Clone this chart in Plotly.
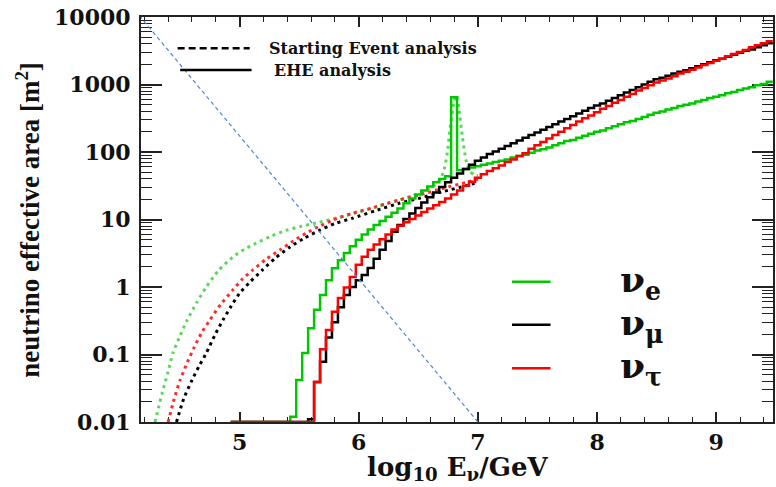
import numpy as np
import plotly.graph_objects as go

# ---------------- data ----------------
# EHE analysis histograms: log10(E/GeV) bins of width 0.05, first bin centred at 4.95
BIN_FIRST_CENTER = 4.95
BIN_WIDTH = 0.05
N_BINS = 91

ehe_nu_e = [0, 0, 0, 0, 0, 0, 0, 0, 0, 0,
            0.012, 0.042, 0.105, 0.245, 0.46, 0.76, 1.26, 1.9, 2.5, 3.2,
            4.0, 5.0, 6.0, 7.1, 8.3, 9.5, 11.0, 12.6, 14.5, 17.4,
            20.4, 23.4, 26.9, 30.9, 35.5, 39.8, 43.7, 650, 53.7, 56.2,
            58.9, 61.7, 64.6, 67.6, 70.8, 74.1, 77.6, 83.2, 87.1, 91.2,
            97.7, 105, 110, 117, 126, 135, 145, 151, 162, 174,
            186, 200, 209, 224, 240, 257, 275, 288, 309, 331,
            355, 380, 398, 427, 447, 479, 501, 525, 562, 589,
            631, 661, 692, 741, 776, 832, 871, 912, 977, 1020, 1100]

ehe_nu_mu = [0, 0, 0, 0, 0, 0, 0, 0, 0, 0, 0, 0, 0,
             0.011, 0.039, 0.078, 0.178, 0.30, 0.50, 0.76, 1.0, 1.26, 1.51,
             1.91, 2.63, 3.55, 4.79, 6.61, 8.32, 10.2, 12.3, 14.8, 17.8,
             21.4, 25.1, 30.2, 35.5, 41.7, 47.9, 56.2, 64.6, 74.1, 83.2,
             93.3, 102, 112, 123, 135, 148, 162, 178, 195, 214,
             234, 257, 282, 309, 339, 372, 407, 447, 490, 525,
             575, 631, 692, 759, 832, 912, 1000, 1100, 1200, 1260,
             1350, 1450, 1550, 1620, 1740, 1860, 2000, 2140, 2290, 2400,
             2570, 2750, 2950, 3160, 3310, 3550, 3800, 4070]

ehe_nu_tau = [0, 0, 0, 0, 0, 0, 0, 0, 0, 0, 0, 0, 0, 0,
              0.039, 0.12, 0.23, 0.43, 0.69, 0.98, 1.41, 2.14, 2.8, 3.55,
              4.27, 5.1, 6.0, 7.1, 8.1, 9.1, 10.2, 11.5, 12.9, 14.5,
              16.2, 18.2, 20.4, 23.4, 26.9, 31.6, 36.3, 41.7, 46.8, 52.5,
              57.5, 63.1, 70.8, 77.6, 87.1, 95.5, 112, 126, 141, 158,
              178, 200, 224, 251, 282, 316, 347, 389, 437, 479,
              537, 589, 661, 724, 813, 891, 977, 1070, 1150, 1230,
              1320, 1450, 1550, 1660, 1780, 1950, 2090, 2240, 2400, 2630,
              2820, 3020, 3240, 3550, 3800, 4070, 4370]

# Starting Event analysis curves
se_nu_e_x = [4.29, 4.32, 4.35, 4.40, 4.44, 4.50, 4.56, 4.64, 4.72, 4.82, 4.94, 5.04,
             5.14, 5.26, 5.39, 5.52, 5.67, 5.83, 6.00, 6.17, 6.34, 6.45, 6.55, 6.62,
             6.67, 6.71, 6.74, 6.77, 6.80, 6.82, 6.84, 6.87, 6.90, 6.93, 6.97, 7.00]
se_nu_e_y = [0.01, 0.0166, 0.0269, 0.0562, 0.105, 0.19, 0.324, 0.589, 1.0, 1.74, 2.75, 3.63,
             4.47, 5.62, 6.92, 7.94, 9.12, 10.7, 12.9, 15.8, 19.5, 22.4, 26.3, 30.9,
             36.3, 50.1, 89.1, 251, 562, 692, 447, 166, 75.9, 52.5, 45.7, 44.7]

se_nu_tau_x = [4.40, 4.45, 4.50, 4.56, 4.62, 4.68, 4.75, 4.84, 4.94, 5.02, 5.11, 5.22, 5.34,
               5.45, 5.56, 5.67, 5.78, 5.94, 6.11, 6.22, 6.34, 6.50, 6.70, 6.90, 7.00]
se_nu_tau_y = [0.01, 0.0219, 0.0417, 0.0759, 0.129, 0.209, 0.324, 0.55, 0.891, 1.29, 1.78, 2.57, 3.55,
               4.79, 6.31, 7.94, 9.77, 12.3, 14.8, 17.0, 19.5, 22.9, 28.8, 35.5, 39.8]

se_nu_mu_x = [4.47, 4.53, 4.60, 4.66, 4.72, 4.79, 4.86, 4.93, 5.00, 5.09, 5.19, 5.30,
              5.42, 5.54, 5.67, 5.80, 5.95, 6.14, 6.34, 6.50, 6.70, 6.90, 7.00]
se_nu_mu_y = [0.01, 0.0219, 0.0417, 0.0676, 0.105, 0.191, 0.324, 0.525, 0.813, 1.20, 1.78, 2.69,
              3.89, 5.25, 6.92, 8.71, 10.5, 13.5, 17.4, 20.4, 25.7, 31.6, 35.5]

# reference guide line (blue, dashed)
guide_x = [4.12, 7.0]
guide_y = [12600, 0.01]

x_tick_vals = [5, 6, 7, 8, 9]
x_tick_text = ["5", "6", "7", "8", "9"]
y_tick_vals = [0.01, 0.1, 1, 10, 100, 1000, 10000]
y_tick_text = ["0.01", "0.1", "1", "10", "100", "1000", "10000"]

# ---------------- styling ----------------
GREEN = "#00c800"
GREEN_LIGHT = "#5ed65e"
RED = "#ff0000"
RED_LIGHT = "#ff2a2a"
BLACK = "#000000"
AXIS = "#222222"
Y_FLOOR = 0.01  # empty bins are drawn on the lower frame edge

edges = BIN_FIRST_CENTER - BIN_WIDTH / 2 + BIN_WIDTH * np.arange(N_BINS + 1)


def hist_xy(values):
    v = [val if val > 0 else Y_FLOOR for val in values]
    return list(edges), v + [v[-1]]


fig = go.Figure()

dot = "3px,4px"
for xs, ys, col in [(se_nu_e_x, se_nu_e_y, GREEN_LIGHT),
                    (se_nu_tau_x, se_nu_tau_y, RED_LIGHT),
                    (se_nu_mu_x, se_nu_mu_y, BLACK)]:
    fig.add_trace(go.Scatter(x=xs, y=ys, mode="lines",
                             line=dict(color=col, width=3, dash=dot, shape="spline", smoothing=0.6),
                             showlegend=False, hoverinfo="skip"))

for vals, col in [(ehe_nu_e, GREEN), (ehe_nu_mu, BLACK), (ehe_nu_tau, RED)]:
    hx, hy = hist_xy(vals)
    fig.add_trace(go.Scatter(x=hx, y=hy, mode="lines", cliponaxis=False,
                             line=dict(color=col, width=2.5, shape="hv"),
                             showlegend=False, hoverinfo="skip"))

fig.add_trace(go.Scatter(x=guide_x, y=guide_y, mode="lines", cliponaxis=False,
                         line=dict(color="#4f86d6", width=1.2, dash="4px,3px"),
                         showlegend=False, hoverinfo="skip"))

tick_font = dict(family="DejaVu Serif", size=22, color="#111111")

minor_y = [k * 10.0 ** d for d in range(-2, 4) for k in range(2, 10)]

fig.update_layout(
    width=776, height=487,
    margin=dict(l=141, r=1, t=17, b=65),
    paper_bgcolor="white", plot_bgcolor="white",
    xaxis=dict(range=[4.172, 9.477], showgrid=False, zeroline=False, layer="below traces",
               showline=True, linewidth=2, linecolor=AXIS, mirror="ticks",
               ticks="inside", ticklen=10, tickwidth=1.5, tickcolor=AXIS,
               tickmode="array", tickvals=x_tick_vals, ticktext=["<b>%s</b>" % t for t in x_tick_text],
               tickfont=tick_font,
               minor=dict(ticks="inside", ticklen=5, tickwidth=1.2, tickcolor=AXIS,
                          dtick=0.2, tick0=0, showgrid=False)),
    yaxis=dict(type="log", range=[-2, 4], showgrid=False, zeroline=False, layer="below traces",
               showline=True, linewidth=2, linecolor=AXIS, mirror="ticks",
               ticks="inside", ticklen=21, tickwidth=1.5, tickcolor=AXIS,
               tickmode="array", tickvals=y_tick_vals, ticktext=["<b>%s</b>" % t for t in y_tick_text],
               tickfont=tick_font, ticklabelstandoff=4,
               minor=dict(ticks="inside", ticklen=11, tickwidth=1.2, tickcolor=AXIS,
                          tickmode="array", tickvals=minor_y, showgrid=False)),
)

# axis titles
fig.add_annotation(text="<b>log<sub>10</sub> E<sub>ν</sub>/GeV</b>", xref="paper", yref="paper",
                   x=0.5, y=-0.116, xanchor="center", yanchor="middle", showarrow=False,
                   font=dict(family="DejaVu Serif", size=26, color="#111111"))
fig.add_annotation(text="<b>neutrino effective area [m<sup>2</sup>]</b>", xref="paper", yref="paper",
                   x=-0.18, y=0.5, xanchor="center", yanchor="middle", textangle=-90, showarrow=False,
                   font=dict(family="Liberation Serif", size=27, color="#111111"))

# analysis legend (upper left)
fig.add_shape(type="line", xref="paper", yref="paper", x0=0.058, x1=0.172, y0=0.923, y1=0.923,
              line=dict(color=BLACK, width=2.5, dash="7px,4px"))
fig.add_shape(type="line", xref="paper", yref="paper", x0=0.062, x1=0.175, y0=0.869, y1=0.869,
              line=dict(color=BLACK, width=2.5))
leg_font = dict(family="DejaVu Serif", size=16, color="#111111")
fig.add_annotation(text="<b>Starting Event analysis</b>", xref="paper", yref="paper",
                   x=0.199, y=0.923, xanchor="left", yanchor="middle", showarrow=False, font=leg_font)
fig.add_annotation(text="<b>EHE analysis</b>", xref="paper", yref="paper",
                   x=0.208, y=0.869, xanchor="left", yanchor="middle", showarrow=False, font=leg_font)

# flavour legend (lower right)
nu_font = dict(family="DejaVu Serif", size=36, color="#111111")
for label, col, yy in [("<b>ν<sub>e</sub></b>", GREEN, 0.346),
                       ("<b>ν<sub>μ</sub></b>", BLACK, 0.240),
                       ("<b>ν<sub>τ</sub></b>", RED, 0.133)]:
    fig.add_shape(type="line", xref="paper", yref="paper", x0=0.587, x1=0.648, y0=yy, y1=yy,
                  line=dict(color=col, width=2.5))
    fig.add_annotation(text=label, xref="paper", yref="paper", x=0.755, y=yy, xanchor="left",
                       yanchor="middle", showarrow=False, font=nu_font)

fig.write_html("out.html")
